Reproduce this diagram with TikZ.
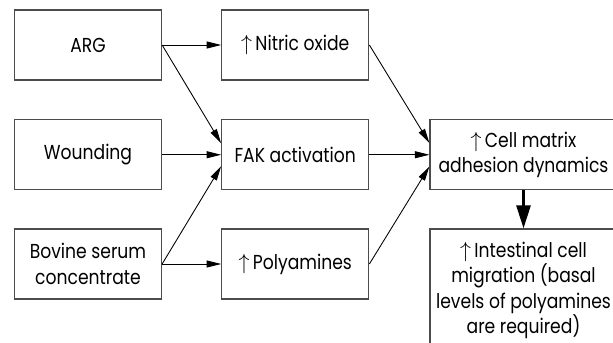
\documentclass[tikz,border=0pt]{standalone}
\usepackage{fontspec}
\setmainfont{Poppins}[FakeStretch=0.85]
\usetikzlibrary{arrows.meta}

\begin{document}
\begin{tikzpicture}[
    box/.style={draw=black!70, line width=0.05cm, minimum width=5.88cm, minimum height=2.8cm, inner sep=0pt, align=center, font=\fontsize{23}{29}\selectfont},
    widebox/.style={box, minimum width=7.48cm},
    arr/.style={line width=0.035cm, -{Triangle[length=0.58cm,width=0.28cm]}},
    bigarr/.style={line width=0.11cm, -{Triangle[length=0.92cm,width=0.56cm]}}
]
    \useasboundingbox (0,0) rectangle (24.52,13.68);
    \clip (0,0) rectangle (24.52,13.68);

    \node[box] (arg) at (3.52,11.88) {ARG};
    \node[box] (wound) at (3.52,7.49) {Wounding};
    \node[box] (bsc) at (3.52,3.12) {Bovine serum\\concentrate};

    \node[box] (no) at (11.81,11.88) {$\uparrow$\,Nitric oxide};
    \node[box] (fak) at (11.81,7.49) {FAK activation};
    \node[box] (poly) at (11.81,3.12) {$\uparrow$\,Polyamines};

    \node[widebox] (cell) at (20.94,7.49) {$\uparrow$\,Cell matrix\\adhesion dynamics};
    \node[widebox, minimum height=4.92cm] (intest) at (20.94,2.06) {$\uparrow$\,Intestinal cell\\migration (basal\\levels of polyamines\\are required)};

    \draw[arr] (arg.east) -- (no.west);
    \draw[arr] (arg.east) -- ([yshift=0.46cm]fak.west);
    \draw[arr] (wound.east) -- (fak.west);
    \draw[arr] (bsc.east) -- ([yshift=-0.46cm]fak.west);
    \draw[arr] (bsc.east) -- (poly.west);

    \draw[arr] (no.east) -- ([yshift=0.47cm]cell.west);
    \draw[arr] (fak.east) -- (cell.west);
    \draw[arr] (poly.east) -- ([yshift=-0.47cm]cell.west);

    \draw[bigarr] (cell.south) -- (intest.north);
\end{tikzpicture}
\end{document}
